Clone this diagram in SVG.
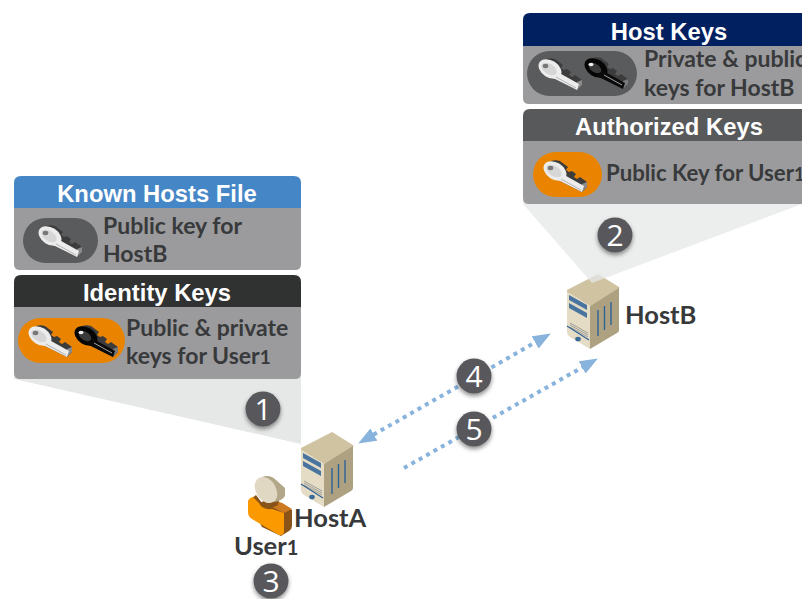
<svg xmlns="http://www.w3.org/2000/svg" width="802" height="599" viewBox="0 0 802 599">
<style>
.hd{font:bold 23.800px "Liberation Sans",Arial,sans-serif;fill:#fff;text-anchor:middle}
.tx{font:bold 23px Lato,"Open Sans",sans-serif;fill:#38393b}
.lb{font:bold 25.500px Lato,"Open Sans",sans-serif;fill:#38393b}
.num{font:30px "Open Sans",Lato,sans-serif;fill:#fff;text-anchor:middle}
.body{fill:#9b9b9d}
.cone{fill:#e6e8e8}
.bubble{fill:#58595b;filter:url(#sh)}
.conn{fill:none;stroke:#88b3dd;stroke-width:4;stroke-dasharray:4 4.5}
</style>
<defs>
<filter id="sh" x="-30%" y="-30%" width="160%" height="170%"><feDropShadow dx="0" dy="2.500" stdDeviation="2" flood-color="#000" flood-opacity=".45"/></filter>
<marker id="ah" viewBox="0 0 12 12" refX="6" refY="6" markerWidth="18" markerHeight="14" markerUnits="userSpaceOnUse" orient="auto-start-reverse" preserveAspectRatio="none"><path d="M0 0L12 6L0 12Z" fill="#88b3dd"/></marker>
<path id="keyBack" d="M5 2Q10 -1 16 1L24 7L22 10L25 12L28 11L32 14L30 17L33 19L36 17L43 22V27L38 32L30 28L12 19Z" fill="#3c3c3c"/>
<g id="keyL">
<use href="#keyBack"/>
<path d="M38 24L43 22V27L38 32L35 30Z" fill="#8c8c8c"/>
<ellipse cx="11" cy="11" rx="12.500" ry="8.500" transform="rotate(33 11 11)" fill="#ececec"/>
<path d="M15 12L40 26L38 32L12 19Z" fill="#ececec"/>
<path d="M17 19L37 30" stroke="#b5b5b5" stroke-width="1"/>
<ellipse cx="10" cy="11" rx="8.500" ry="5" transform="rotate(33 10 11)" fill="#d6d6d6"/>
<ellipse cx="6.500" cy="8" rx="2.800" ry="2.200" fill="#777"/>
</g>
<g id="keyD">
<use href="#keyBack"/>
<path d="M38 24L43 22V27L38 32L35 30Z" fill="#7a7a7a"/>
<ellipse cx="11" cy="11" rx="12.500" ry="8.500" transform="rotate(33 11 11)" fill="#050505"/>
<path d="M15 12L40 26L38 32L12 19Z" fill="#0a0a0a"/>
<path d="M19 18L37 28" stroke="#a5a5a5" stroke-width="1"/>
<ellipse cx="10" cy="11" rx="7" ry="4.200" transform="rotate(33 10 11)" fill="#3a3a3a"/>
<ellipse cx="6" cy="7.500" rx="2.500" ry="1.800" fill="#eee"/>
</g>
<g id="server">
<path d="M31 0L52 13Q53 14 52 15L23 32L0 18L0 16Z" fill="#d0c3a2"/>
<path d="M0 18L23 32V75L3 63Q0 61 0 58Z" fill="#e5dcc5"/>
<path d="M23 32L52 14V56Q52 58 50 59L23 75Z" fill="#ada182"/>
<path d="M2 21L20 31V36L2 26ZM2 29L20 39V44L2 34Z" fill="#48749f"/>
<path d="M3 49L21 59M3 51L21 61M3 53L21 63" stroke="#8c8f8c" stroke-width=".8"/>
<path d="M0 52L22 66" stroke="#2f6295" stroke-width="1.200"/>
<ellipse cx="11" cy="65" rx="2.800" ry="2.300" fill="#3a6a99"/>
<path d="M31 36V62M37.500 32V56M44 28V51" stroke="#2f6295" stroke-width="1.400" fill="none"/>
</g>
</defs>

<g id="cone-a"><path class="cone" d="M14 379L301 444V370H14Z"/></g>

<g id="known-hosts">
<path class="body" d="M14 205H301V264Q301 270 295 270H20Q14 270 14 264Z"/>
<path d="M14 208V183Q14 176 21 176H294Q301 176 301 183V208Z" fill="#4586c6"/>
<text class="hd" x="157" y="202">Known Hosts File</text>
<rect x="23" y="218" width="75" height="45" rx="22.500" fill="#5a5b5d"/>
<use href="#keyL" x="39" y="225"/>
<text class="tx" x="103" y="234">Public key for</text>
<text class="tx" x="103" y="262">HostB</text>
</g>

<g id="identity-keys">
<path class="body" d="M14 305H301V373Q301 379 295 379H20Q14 379 14 373Z"/>
<path d="M14 307V282Q14 275 21 275H294Q301 275 301 282V307Z" fill="#303232"/>
<text class="hd" x="157" y="301">Identity Keys</text>
<rect x="18" y="318" width="107" height="45" rx="22.500" fill="#ea8400"/>
<use href="#keyL" x="29" y="325"/>
<use href="#keyD" x="75" y="325"/>
<text class="tx" x="126" y="336">Public &amp; private</text>
<text class="tx" x="126" y="364">keys for User<tspan font-size="19">1</tspan></text>
</g>

<g id="hostA"><use href="#server" x="301" y="432"/>
<text class="lb" x="294" y="527">HostA</text></g>

<g id="hostB"><use href="#server" x="567" y="274"/>
<text class="lb" x="625" y="324">HostB</text></g>

<g id="cone-b"><path class="cone" fill-opacity=".75" d="M523 204L592 283L802 204V190H523Z"/></g>

<g id="host-keys">
<path class="body" d="M523 44H802V104H529Q523 104 523 98Z"/>
<path d="M523 46V20Q523 13 530 13H802V46Z" fill="#002060"/>
<text class="hd" x="669" y="40">Host Keys</text>
<rect x="527" y="51" width="110" height="45" rx="22.500" fill="#5a5b5d"/>
<use href="#keyL" x="539" y="58"/>
<use href="#keyD" x="585" y="57"/>
<text class="tx" x="644" y="67">Private &amp; public</text>
<text class="tx" x="644" y="96">keys for HostB</text>
</g>

<g id="authorized-keys">
<path class="body" d="M523 139H802V204H529Q523 204 523 198Z"/>
<path d="M523 141V116Q523 109 530 109H802V141Z" fill="#58595b"/>
<text class="hd" x="669" y="135">Authorized Keys</text>
<rect x="533" y="152" width="69" height="45" rx="22.500" fill="#ea8400"/>
<use href="#keyL" x="544" y="160"/>
<text class="tx" x="606" y="181" style="font-size:22.200px">Public Key for User<tspan font-size="18">1</tspan></text>
</g>

<g id="connectors">
<path class="conn" d="M366 439L543 338" marker-start="url(#ah)" marker-end="url(#ah)"/>
<path class="conn" d="M404 468L590 363" marker-end="url(#ah)"/>
</g>

<g id="user1">
<path d="M248 501L256 495L262 503L273 507L282 503L292 510V526Q292 529 289 531L281 536L262 527Z" fill="#8a5418"/>
<path d="M262 503L272 499L282 503L292 509L284 513L274 508Z" fill="#cc7a22"/>
<path d="M248 503Q248 498 253 497L259 503Q262 510 272 509L284 513V531Q284 536 279 535L252 519Q248 517 248 512Z" fill="#fb9a00"/>
<path d="M259 503L280 495L278 505L270 509Z" fill="#8a5418"/>
<path d="M262 477Q270 474 276 480L285 488V496Q282 501 274 502L262 497Z" fill="#b3a78a"/>
<ellipse cx="266" cy="490" rx="10" ry="14" transform="rotate(-32 266 490)" fill="#e0d8c2"/>
<text class="lb" x="234" y="555">User<tspan font-size="20">1</tspan></text>
</g>

<g id="step1"><circle class="bubble" cx="263" cy="409" r="17.500"/><text class="num" x="263" y="420">1</text></g>
<g id="step2"><circle class="bubble" cx="615" cy="235" r="17.500"/><text class="num" x="615" y="246">2</text></g>
<g id="step3"><circle class="bubble" cx="271" cy="581" r="17.500"/><text class="num" x="271" y="592">3</text></g>
<g id="step4"><circle class="bubble" cx="474" cy="376" r="17.500"/><text class="num" x="474" y="387">4</text></g>
<g id="step5"><circle class="bubble" cx="474" cy="429" r="17.500"/><text class="num" x="474" y="440">5</text></g>
</svg>
